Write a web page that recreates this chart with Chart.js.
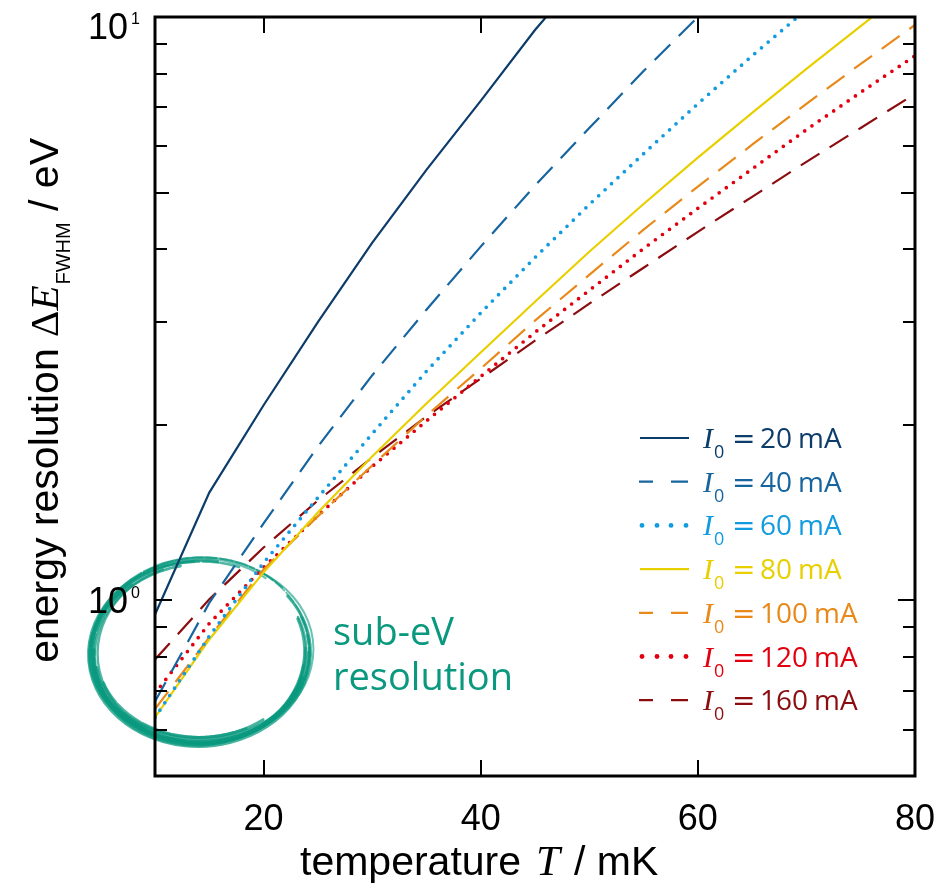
<!DOCTYPE html>
<html><head><meta charset="utf-8">
<script src="https://cdn.jsdelivr.net/npm/chart.js@4.4.1/dist/chart.umd.min.js"></script>
<style>html,body{margin:0;padding:0;background:#fff;}#wrap{width:949px;height:890px;position:relative}</style>
</head><body><div id="wrap"><canvas id="c" width="949" height="890"></canvas></div>
<script>
// ---- data ----
const temperatures = [10, 15, 20, 25, 30, 35, 40, 45, 50, 55, 60, 65, 70, 75, 80]; // mK
const currentLabels = ['20', '40', '60', '80', '100', '120', '160']; // mA
const res20mA  = [0.946, 1.53, 2.16, 3.00, 4.10, 5.47, 7.18, 9.50, 12.2, null, null, null, null, null, null];
const res40mA  = [0.671, 0.99, 1.355, 1.835, 2.43, 3.15, 4.04, 5.14, 6.45, 8.08, 10.0, 12.3, null, null, null];
const res60mA  = [0.63, 0.868, 1.16, 1.50, 1.93, 2.47, 3.11, 3.87, 4.77, 5.83, 7.10, 8.58, 10.3, null, null];
const res80mA  = [0.63, 0.857, 1.117, 1.415, 1.765, 2.175, 2.66, 3.25, 3.96, 4.78, 5.74, 6.85, 8.15, 9.65, 11.4];
const res100mA = [0.651, 0.864, 1.13, 1.393, 1.703, 2.074, 2.496, 3.016, 3.615, 4.32, 5.12, 6.04, 7.10, 8.31, 9.69];
const res120mA = [0.693, 0.913, 1.139, 1.398, 1.696, 2.03, 2.42, 2.88, 3.40, 4.01, 4.70, 5.49, 6.41, 7.43, 8.58];
const res160mA = [0.792, 1.004, 1.232, 1.483, 1.757, 2.066, 2.40, 2.787, 3.225, 3.717, 4.283, 4.918, 5.646, 6.454, 7.383];
const xTickValues = [20, 40, 60, 80];
const yMajorTicks = [1, 10];
const yMinorTicks = [0.6, 0.7, 0.8, 0.9, 2, 3, 4, 5, 6, 7, 8, 9];

// ---- styles ----
const seriesValues = [res20mA, res40mA, res60mA, res80mA, res100mA, res120mA, res160mA];
const colors = ['#0b3c6a', '#17659f', '#139be0', '#e8cf00', '#e8891a', '#e2000f', '#8b0d10'];
const kinds  = ['solid', 'dash', 'dot', 'solid', 'dash', 'dot', 'dash'];
const teal = '#0a997f';

function styleFor(kind) {
  if (kind === 'dash') return {borderDash: [22, 12], borderWidth: 2.2, borderCapStyle: 'butt'};
  if (kind === 'dot') return {borderDash: [0, 8.8], borderWidth: 3.7, borderCapStyle: 'round'};
  return {borderDash: [], borderWidth: 2.2, borderCapStyle: 'butt'};
}

const datasets = seriesValues.map((vals, i) => {
  const pts = [];
  vals.forEach((v, j) => { if (v !== null) pts.push({x: temperatures[j], y: v}); });
  return Object.assign({
    label: 'I0 = ' + currentLabels[i] + ' mA',
    data: pts,
    borderColor: colors[i],
    backgroundColor: colors[i],
    pointRadius: 0,
    tension: 0,
    fill: false
  }, styleFor(kinds[i]));
});

// ---- brush ellipse strokes (decoration): dx, dy, rx, ry, rot, start(pi), end(pi), width, alpha, dash ----
const brush = [
  [0, 3, 111, 93, -0.03, -0.20, 1.56, 3.0, 0.75, []],
  [1, 2, 109, 91, -0.02, -0.12, 1.62, 2.6, 0.7, [16, 2, 30, 3]],
  [-1, 3, 107, 92, -0.05, 0.00, 1.50, 2.8, 0.7, []],
  [0, 4, 105, 90, -0.03, 0.05, 1.45, 2.8, 0.75, [40, 2]],
  [2, 1, 112, 92, -0.06, -0.30, 1.30, 2.0, 0.6, []],
  [1, 1, 110, 94, -0.05, 1.00, 1.78, 2.2, 0.7, [25, 3, 9, 2]],
  [0, 0, 106, 92, -0.02, 1.10, 1.72, 2.0, 0.6, []],
  [2, 2, 108, 95, -0.04, 1.30, 1.92, 1.8, 0.6, [12, 3]],
  [0, 5, 106, 88, 0.00, 0.08, 1.02, 3.6, 0.85, []],
  [0, 6, 104, 86, 0.02, 0.12, 0.95, 3.4, 0.8, [50, 2]],
  [0, 5, 108, 84, 0.00, 0.22, 0.82, 3.2, 0.8, []],
  [1, 4, 103, 83, -0.03, 0.30, 0.90, 3.0, 0.75, [30, 2]],
  [0, 4, 109, 87, -0.02, 0.00, 0.60, 2.6, 0.75, []],
  [-1, 5, 105, 82, 0.00, 0.35, 0.75, 2.6, 0.7, [18, 2]],
  [-2, 3, 108, 88, -0.04, 0.55, 1.30, 3.0, 0.75, []],
  [-3, 3, 104, 90, -0.04, 0.75, 1.25, 3.0, 0.75, [22, 3]],
  [-1, 2, 101, 89, -0.05, 0.70, 1.40, 2.4, 0.7, []],
  [3, 2, 102, 90, -0.06, -0.10, 0.32, 2.8, 0.75, []],
  [0, 3, 110, 89, -0.01, -0.06, 0.28, 2.6, 0.75, [9, 3]],
  [1, 3, 106, 91, -0.03, -0.12, 0.40, 2.4, 0.7, []]
];

const sansFam = '"Liberation Sans", Arial, sans-serif';
const serifFam = '"Liberation Serif", "DejaVu Serif", serif';
const myFam = '"Open Sans", "Noto Sans", sans-serif';

const deco = {
  id: 'deco',
  beforeDatasetsDraw(chart) {
    const ctx = chart.ctx;
    const xs = chart.scales.x, ys = chart.scales.y;
    const cx = xs.getPixelForValue(14.1), cy = ys.getPixelForValue(0.821);
    ctx.save();
    ctx.strokeStyle = teal;
    ctx.lineCap = 'round';
    brush.forEach(b => {
      ctx.globalAlpha = b[8];
      ctx.lineWidth = b[7];
      ctx.setLineDash(b[9]);
      ctx.beginPath();
      ctx.ellipse(cx + b[0], cy + b[1], b[2], b[3], b[4], b[5] * Math.PI, b[6] * Math.PI);
      ctx.stroke();
    });
    ctx.restore();
  },
  afterDraw(chart) {
    const ctx = chart.ctx;
    const a = chart.chartArea;
    const xs = chart.scales.x, ys = chart.scales.y;
    ctx.save();
    // frame
    ctx.strokeStyle = '#000';
    ctx.lineWidth = 3;
    ctx.strokeRect(a.left, a.top, a.right - a.left, a.bottom - a.top);
    // inward ticks
    ctx.lineWidth = 2;
    ctx.beginPath();
    xTickValues.forEach(v => {
      const px = Math.round(xs.getPixelForValue(v));
      ctx.moveTo(px, a.bottom); ctx.lineTo(px, a.bottom - 16);
      ctx.moveTo(px, a.top); ctx.lineTo(px, a.top + 16);
    });
    yMajorTicks.concat(yMinorTicks).forEach(v => {
      const py = Math.round(ys.getPixelForValue(v));
      const len = yMajorTicks.includes(v) ? 17 : (v === 5 ? 14 : 12);
      ctx.moveTo(a.left, py); ctx.lineTo(a.left + len, py);
      ctx.moveTo(a.right, py); ctx.lineTo(a.right - len, py);
    });
    ctx.stroke();

    // y tick labels 10^0, 10^1
    ctx.fillStyle = '#000';
    ctx.textBaseline = 'alphabetic';
    yMajorTicks.forEach(v => {
      let py = ys.getPixelForValue(v);
      py = Math.max(py, a.top + 9);
      ctx.font = '36px ' + sansFam;
      ctx.textAlign = 'right';
      ctx.fillText('10', 128, py + 13);
      ctx.textAlign = 'left';
      ctx.font = '16px ' + sansFam;
      ctx.fillText(String(Math.round(Math.log10(v))), 131, py - 2);
    });

    // x title
    ctx.textAlign = 'left';
    ctx.font = '41px ' + sansFam;
    let xx = 300;
    const xb = 875;
    ctx.fillText('temperature', xx, xb);
    xx += ctx.measureText('temperature').width + 15;
    ctx.font = 'italic 43px ' + serifFam;
    ctx.fillText('T', xx, xb);
    xx += ctx.measureText('T').width + 14;
    ctx.font = '41px ' + sansFam;
    ctx.fillText('/ mK', xx, xb);

    // y title (rotated)
    const yParts = [
      {t: 'energy resolution ', font: '41px ' + sansFam},
      {t: '\u0394', font: '41px ' + serifFam},
      {t: 'E', font: 'italic 41px ' + serifFam, after: 1},
      {t: 'FWHM', font: '20px ' + sansFam, dy: 12},
      {t: ' / eV', font: '41px ' + sansFam}
    ];
    let yw = 0;
    yParts.forEach(p => { ctx.font = p.font; yw += ctx.measureText(p.t).width + (p.after || 0); });
    ctx.save();
    ctx.translate(58, 138 + yw);
    ctx.rotate(-Math.PI / 2);
    let cxp = 0;
    yParts.forEach(p => {
      ctx.font = p.font;
      ctx.fillText(p.t, cxp, p.dy || 0);
      cxp += ctx.measureText(p.t).width + (p.after || 0);
    });
    ctx.restore();

    // annotation text
    ctx.fillStyle = teal;
    ctx.font = '38px ' + myFam;
    ctx.fillText('sub-eV', 333, 645);
    ctx.fillText('resolution', 333, 690);

    // legend
    currentLabels.forEach((lab, i) => {
      const yc = 438 + i * 43.7;
      const col = colors[i];
      ctx.strokeStyle = col;
      ctx.fillStyle = col;
      ctx.setLineDash([]);
      ctx.lineCap = 'butt';
      ctx.lineWidth = 2.2;
      ctx.beginPath();
      if (kinds[i] === 'solid') {
        ctx.moveTo(640, yc); ctx.lineTo(689, yc); ctx.stroke();
      } else if (kinds[i] === 'dash') {
        ctx.moveTo(639, yc); ctx.lineTo(653, yc);
        ctx.moveTo(671, yc); ctx.lineTo(688, yc); ctx.stroke();
      } else {
        [642, 657, 671, 686].forEach(xd => {
          ctx.beginPath(); ctx.arc(xd, yc, 2.4, 0, 2 * Math.PI); ctx.fill();
        });
      }
      const base = yc + 10;
      ctx.font = 'italic 30px ' + serifFam;
      ctx.fillText('I', 703, base);
      ctx.font = '18px ' + myFam;
      ctx.fillText('0', 714, base + 10);
      ctx.font = '28px "DejaVu Sans", sans-serif';
      ctx.fillText('=', 732, base);
      ctx.font = '28px ' + myFam;
      ctx.fillText(lab, 760, base);
      const w = ctx.measureText(lab).width;
      ctx.fillText('mA', 760 + w + 6, base);
    });
    ctx.restore();
  }
};

new Chart(document.getElementById('c'), {
  type: 'line',
  data: {datasets},
  options: {
    responsive: false,
    animation: false,
    devicePixelRatio: 1,
    layout: {padding: {left: 0, right: 34, top: 17, bottom: 0}},
    plugins: {legend: {display: false}, tooltip: {enabled: false}},
    scales: {
      x: {
        type: 'linear', min: 10, max: 80,
        grid: {display: false}, border: {display: false},
        afterBuildTicks: s => { s.ticks = xTickValues.map(v => ({value: v})); },
        afterFit: s => { s.height = 114; },
        ticks: {color: '#000', font: {family: sansFam, size: 36}, padding: 14, maxRotation: 0, autoSkip: false}
      },
      y: {
        type: 'logarithmic', min: 0.5, max: 10,
        grid: {display: false}, border: {display: false},
        ticks: {display: false},
        afterFit: s => { s.width = 155; }
      }
    }
  },
  plugins: [deco]
});
</script>
</body></html>
